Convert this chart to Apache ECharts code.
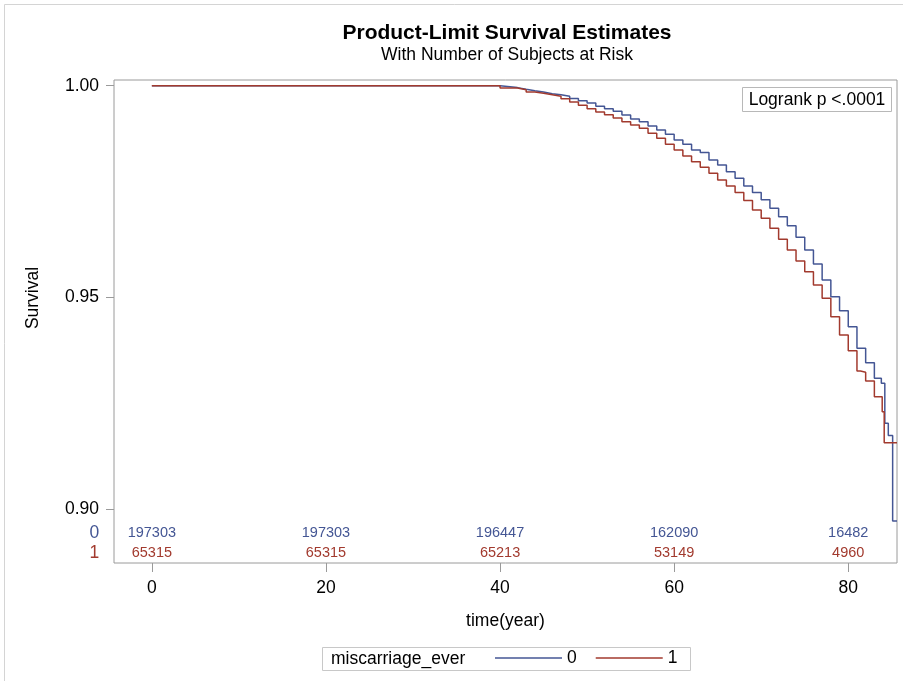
<!DOCTYPE html>
<html>
<head>
<meta charset="utf-8">
<script src="https://cdn.jsdelivr.net/npm/echarts@6/dist/echarts.min.js"></script>
<style>html,body{margin:0;padding:0;background:#fff}#c{width:903px;height:681px}</style>
</head>
<body>
<div id="c"></div>
<script>
// Kaplan-Meier survival estimates, group miscarriage_ever = 0
const time0 = [0, 40, 42, 43, 44, 45, 46, 47, 48, 49, 50, 51, 52, 53, 54, 55, 56, 57, 58, 59, 60, 61, 62, 63, 64, 65, 66, 67, 68, 69, 70, 71, 72, 73, 74, 75, 76, 77, 78, 79, 80, 81, 82, 83, 83.8, 84.2, 84.6, 85.1, 85.6];
const surv0 = [1.0, 0.99955, 0.99915, 0.99882, 0.99851, 0.99811, 0.99787, 0.99750, 0.99698, 0.99646, 0.99591, 0.99513, 0.99457, 0.99395, 0.99308, 0.99213, 0.99150, 0.99048, 0.98953, 0.98852, 0.98717, 0.98616, 0.98481, 0.98420, 0.98245, 0.98127, 0.97968, 0.97812, 0.97630, 0.97480, 0.97305, 0.97104, 0.96905, 0.96693, 0.96419, 0.96119, 0.95788, 0.95410, 0.95015, 0.94685, 0.94307, 0.93796, 0.93456, 0.93088, 0.92970, 0.92025, 0.91737, 0.89717, 0.89717];
// group miscarriage_ever = 1
const time1 = [0, 40, 42, 43, 44, 45, 46, 47, 48, 49, 50, 51, 52, 53, 54, 55, 56, 57, 58, 59, 60, 61, 62, 63, 64, 65, 66, 67, 68, 69, 70, 71, 72, 73, 74, 75, 76, 77, 78, 79, 80, 81, 81.4, 82, 83, 83.9, 84.13, 85.6];
const surv1 = [1.0, 0.99946, 0.99906, 0.99851, 0.99820, 0.99787, 0.99750, 0.99693, 0.99615, 0.99537, 0.99457, 0.99379, 0.99315, 0.99237, 0.99146, 0.99072, 0.98994, 0.98876, 0.98757, 0.98616, 0.98481, 0.98339, 0.98205, 0.98072, 0.97931, 0.97772, 0.97630, 0.97480, 0.97290, 0.97063, 0.96867, 0.96631, 0.96371, 0.96119, 0.95859, 0.95606, 0.95292, 0.94978, 0.94543, 0.94111, 0.93740, 0.93260, 0.93230, 0.93024, 0.92653, 0.92299, 0.91566, 0.91566];
// numbers at risk
const atRiskTimes = [0, 20, 40, 60, 80];
const atRisk0 = [197303, 197303, 196447, 162090, 16482];
const atRisk1 = [65315, 65315, 65213, 53149, 4960];
// axis ticks
const xTicks = [0, 20, 40, 60, 80];
const yTicks = [0.90, 0.95, 1.00];
const groups = ['0', '1'];

const FONT = '"Liberation Sans", Arial, sans-serif';
const FS = 17.5;
const C0 = '#445694', C1 = '#A23A2E';
const AXC = '#9a9a9a';
const ROW0_Y = 0.89433, ROW1_Y = 0.88960, ROWLAB_X = -6.6;

function pairs(t, s) { return t.map((v, i) => [v, s[i]]); }
function riskSeries(name, vals, label, yv, color) {
  const d = atRiskTimes.map((t, i) => ({ value: [t, yv], label: { formatter: String(vals[i]), fontSize: 14.5 } }));
  d.push({ value: [ROWLAB_X, yv], label: { formatter: label, fontSize: FS } });
  return {
    name: name, type: 'scatter', symbol: 'circle', symbolSize: 1, silent: true, clip: false,
    itemStyle: { color: 'rgba(0,0,0,0)' },
    data: d,
    label: { show: true, position: 'inside', color: color, opacity: 1, textBorderWidth: 0, fontFamily: FONT },
    z: 5
  };
}

const chart = echarts.init(document.getElementById('c'), null, { renderer: 'canvas' });
chart.setOption({
  backgroundColor: '#fff',
  animation: false,
  grid: { left: 114, top: 80, width: 783, height: 483, show: true, borderColor: AXC, borderWidth: 1, backgroundColor: 'transparent' },
  xAxis: {
    type: 'value', min: -4.35, max: 85.6,
    axisLine: { show: false, onZero: false },
    splitLine: { show: false },
    axisTick: { show: true, length: 9, lineStyle: { color: AXC }, customValues: xTicks },
    axisLabel: { customValues: xTicks, color: '#000', fontSize: FS, fontFamily: FONT, margin: 16 },
    name: 'time(year)', nameLocation: 'middle', nameGap: 49,
    nameTextStyle: { color: '#000', fontSize: FS, fontFamily: FONT }
  },
  yAxis: {
    type: 'value', min: 0.88724, max: 1.00135,
    axisLine: { show: false, onZero: false },
    splitLine: { show: false },
    axisTick: { show: true, length: 8, lineStyle: { color: AXC }, customValues: yTicks },
    axisLabel: { customValues: yTicks, color: '#000', fontSize: FS, fontFamily: FONT, margin: 15, formatter: v => v.toFixed(2) }
  },
  legend: {
    data: groups, left: 495, top: 649, padding: 0, itemWidth: 67, itemHeight: 1.5, itemGap: 19, icon: 'rect',
    textStyle: { color: '#000', fontSize: FS, fontFamily: FONT }, selectedMode: false
  },
  series: [
    { name: groups[0], type: 'line', step: 'end', symbol: 'none', data: pairs(time0, surv0), lineStyle: { color: C0, width: 1.5 }, itemStyle: { color: C0 }, z: 3 },
    { name: groups[1], type: 'line', step: 'end', symbol: 'none', data: pairs(time1, surv1), lineStyle: { color: C1, width: 1.5 }, itemStyle: { color: C1 }, z: 4 },
    riskSeries('risk0', atRisk0, groups[0], ROW0_Y, C0),
    riskSeries('risk1', atRisk1, groups[1], ROW1_Y, C1)
  ],
  graphic: [
    { type: 'rect', shape: { x: 4.5, y: 4.5, width: 920, height: 700 }, style: { fill: 'none', stroke: '#d4d4d4', lineWidth: 1 }, silent: true },
    { type: 'text', x: 507, y: 33, style: { text: 'Product-Limit Survival Estimates', font: 'bold 21px ' + FONT, fill: '#000', align: 'center', verticalAlign: 'middle' } },
    { type: 'text', x: 507, y: 55.5, style: { text: 'With Number of Subjects at Risk', font: FS + 'px ' + FONT, fill: '#000', align: 'center', verticalAlign: 'middle' } },
    { type: 'text', x: 33, y: 298, rotation: Math.PI / 2, style: { text: 'Survival', font: FS + 'px ' + FONT, fill: '#000', align: 'center', verticalAlign: 'middle' } },
    { type: 'rect', shape: { x: 742.5, y: 87.5, width: 149, height: 24 }, style: { fill: '#fff', stroke: '#b8b8b8', lineWidth: 1 }, z: 10 },
    { type: 'text', x: 817, y: 100, style: { text: 'Logrank p <.0001', font: FS + 'px ' + FONT, fill: '#000', align: 'center', verticalAlign: 'middle' }, z: 11 },
    { type: 'rect', shape: { x: 322.5, y: 647.5, width: 368, height: 23 }, style: { fill: 'none', stroke: '#c8c8c8', lineWidth: 1 } },
    { type: 'text', x: 331, y: 659.5, style: { text: 'miscarriage_ever', font: FS + 'px ' + FONT, fill: '#000', align: 'left', verticalAlign: 'middle' } }
  ]
});
</script>
</body>
</html>
